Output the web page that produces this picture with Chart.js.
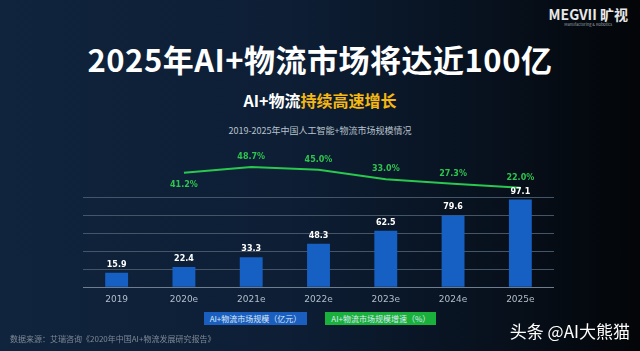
<!DOCTYPE html>
<html>
<head>
<meta charset="utf-8">
<script src="https://cdn.jsdelivr.net/npm/chart.js@4.4.0/dist/chart.umd.min.js"></script>
<style>
    html, body {
        margin: 0;
        padding: 0;
        width: 640px;
        height: 351px;
        overflow: hidden;
        font-family: "Noto Sans CJK SC", "Noto Sans", sans-serif;
    }
    body {
        position: relative;
        background: linear-gradient(90deg, #10243d 0%, #0d1e35 45%, #08121f 75%, #030508 100%);
    }
    #chart {
        position: absolute;
        left: 0;
        top: 0;
    }
    .txt {
        position: absolute;
        white-space: nowrap;
    }
    #title {
        left: 0;
        width: 640px;
        top: 36px;
        text-align: center;
        color: #ffffff;
        font-size: 31px;
        font-weight: bold;
        letter-spacing: 0.5px;
    }
    #subtitle {
        left: 0;
        width: 640px;
        top: 88px;
        text-align: center;
        color: #ffffff;
        font-size: 16px;
        font-weight: bold;
    }
    #subtitle span { color: #f6b912; }
    #chartTitle {
        left: 0;
        width: 640px;
        top: 124px;
        text-align: center;
        color: #b9c2cc;
        font-size: 9px;
    }
    #logo {
        right: 12px;
        top: 4px;
        color: #e8e8e8;
        font-size: 14px;
        font-weight: bold;
        text-align: center;
    }
    #logo small {
        display: block;
        font-size: 4px;
        font-weight: normal;
        color: #9aa0a8;
        margin-top: -3px;
    }
    #legend {
        left: 0;
        width: 640px;
        top: 312px;
        text-align: center;
        font-size: 0;
    }
    .lg {
        display: inline-block;
        font-size: 8px;
        color: #dfe8f2;
        padding: 1px 6px;
        margin: 0 9px;
        line-height: 11px;
    }
    #source {
        left: 10px;
        top: 333px;
        color: #7f8a96;
        font-size: 8px;
    }
    #mark {
        right: 10px;
        top: 318px;
        color: #ffffff;
        font-size: 17px;
    }
</style>
</head>
<body>
<div class="txt" id="logo">MEGVII 旷视<small>Manufacturing &amp; Robotics</small></div>
<div class="txt" id="title">2025年AI+物流市场将达近100亿</div>
<div class="txt" id="subtitle">AI+物流<span>持续高速增长</span></div>
<div class="txt" id="chartTitle">2019-2025年中国人工智能+物流市场规模情况</div>
<canvas id="chart" width="640" height="351"></canvas>
<div class="txt" id="legend"></div>
<div class="txt" id="source">数据来源：艾瑞咨询《2020年中国AI+物流发展研究报告》</div>
<div class="txt" id="mark">头条 @AI大熊猫</div>
<script>
(function () {
    'use strict';

    var years = ['2019', '2020e', '2021e', '2022e', '2023e', '2024e', '2025e'];
    var marketSize = [15.9, 22.4, 33.3, 48.3, 62.5, 79.6, 97.1];
    var growthRate = [null, 41.2, 48.7, 45.0, 33.0, 27.3, 22.0];
    var sizeTicks = [0, 20, 40, 60, 80, 100];

    var seriesNames = ['AI+物流市场规模（亿元）', 'AI+物流市场规模增速（%）'];
    var barColor = '#1660c4';
    var lineColor = '#2ac84e';

    var legend = document.getElementById('legend');
    var legendBg = ['#1a5fc0', '#19b13c'];
    for (var i = 0; i < seriesNames.length; i++) {
        var item = document.createElement('span');
        item.className = 'lg';
        item.style.background = legendBg[i];
        item.textContent = seriesNames[i];
        legend.appendChild(item);
    }

    var valueLabels = {
        id: 'valueLabels',
        afterDatasetsDraw: function (chart) {
            var ctx = chart.ctx;
            ctx.save();
            ctx.textAlign = 'center';
            ctx.textBaseline = 'middle';

            var bars = chart.getDatasetMeta(0).data;
            ctx.font = 'bold 8px "DejaVu Sans", sans-serif';
            ctx.fillStyle = '#ffffff';
            for (var i = 0; i < bars.length; i++) {
                ctx.fillText(marketSize[i].toFixed(1), bars[i].x, bars[i].y - 8);
            }

            var pts = chart.getDatasetMeta(1).data;
            ctx.font = 'bold 8px "DejaVu Sans", sans-serif';
            ctx.fillStyle = '#2fc44f';
            for (var j = 0; j < pts.length; j++) {
                if (growthRate[j] === null) {
                    continue;
                }
                var dy = j === 1 ? 12 : -10;
                ctx.fillText(growthRate[j].toFixed(1) + '%', pts[j].x, pts[j].y + dy);
            }
            ctx.restore();
        }
    };

    new Chart(document.getElementById('chart'), {
        type: 'bar',
        data: {
            labels: years,
            datasets: [{
                label: seriesNames[0],
                data: marketSize,
                backgroundColor: barColor,
                barPercentage: 0.34,
                categoryPercentage: 1,
                yAxisID: 'y',
                order: 2
            }, {
                type: 'line',
                label: seriesNames[1],
                data: growthRate,
                borderColor: lineColor,
                backgroundColor: lineColor,
                borderWidth: 2,
                pointRadius: 3,
                pointBackgroundColor: '#3fe05f',
                pointBorderWidth: 0,
                tension: 0,
                clip: false,
                yAxisID: 'y1',
                order: 1
            }]
        },
        options: {
            responsive: false,
            animation: false,
            layout: {
                padding: { left: 83, right: 86, top: 197, bottom: 39 }
            },
            plugins: {
                legend: { display: false },
                tooltip: { enabled: false }
            },
            scales: {
                x: {
                    grid: { display: false, drawTicks: false },
                    border: { display: false },
                    ticks: {
                        color: '#b3bfcc',
                        font: { size: 9, family: '"DejaVu Sans", sans-serif' },
                        padding: 7
                    }
                },
                y: {
                    min: sizeTicks[0],
                    max: sizeTicks[sizeTicks.length - 1],
                    afterBuildTicks: function (axis) {
                        axis.ticks = sizeTicks.map(function (v) { return { value: v }; });
                    },
                    ticks: { display: false },
                    border: { display: false },
                    grid: {
                        color: function (c) {
                            return c.tick && c.tick.value === 0 ? '#6f7e8f' : '#455568';
                        },
                        lineWidth: 1,
                        drawTicks: false
                    }
                },
                y1: {
                    display: false,
                    min: -105.2,
                    max: 10.2
                }
            }
        },
        plugins: [valueLabels]
    });
})();
</script>
</body>
</html>
